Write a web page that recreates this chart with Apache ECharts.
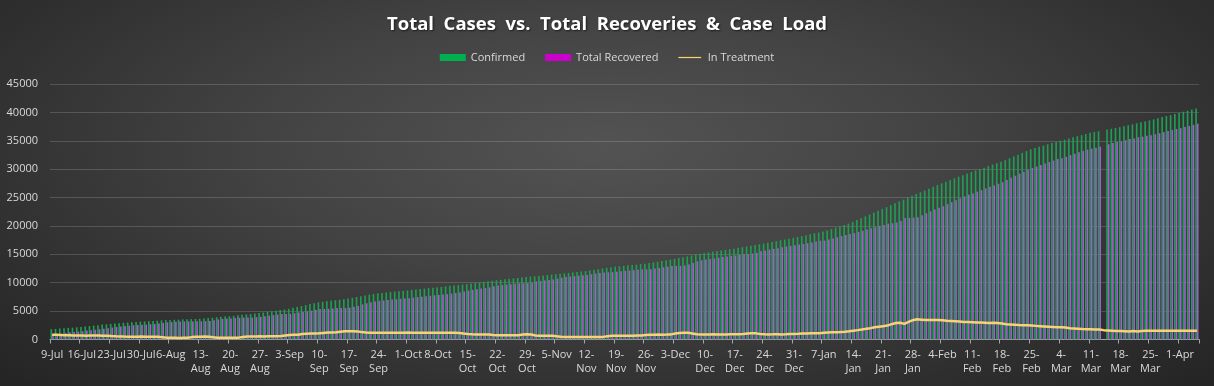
<!DOCTYPE html>
<html>
<head>
<meta charset="utf-8">
<script src="https://cdn.jsdelivr.net/npm/echarts@6/dist/echarts.min.js"></script>
<style>
html,body{margin:0;padding:0;}
#c{width:1214px;height:386px;background:radial-gradient(ellipse 70% 85% at 50% 38%, #535353 0%, #434343 40%, #2e2e2e 80%, #252525 100%);}
</style>
</head>
<body>
<div id="c"></div>
<script>
// Weekly tick labels (every 7th day from 9-Jul)
const tickLabels = ['9-Jul','16-Jul','23-Jul','30-Jul','6-Aug','13-\nAug','20-\nAug','27-\nAug','3-Sep','10-\nSep','17-\nSep','24-\nSep','1-Oct','8-Oct','15-\nOct','22-\nOct','29-\nOct','5-Nov','12-\nNov','19-\nNov','26-\nNov','3-Dec','10-\nDec','17-\nDec','24-\nDec','31-\nDec','7-Jan','14-\nJan','21-\nJan','28-\nJan','4-Feb','11-\nFeb','18-\nFeb','25-\nFeb','4-\nMar','11-\nMar','18-\nMar','25-\nMar','1-Apr'];

// Daily categories 9-Jul-2020 .. 5-Apr-2021
const months = ['Jan','Feb','Mar','Apr','May','Jun','Jul','Aug','Sep','Oct','Nov','Dec'];
const categories = [];
(function(){
  const d = new Date(2020, 6, 9);
  const end = new Date(2021, 3, 5);
  while (d <= end) { categories.push(d.getDate() + '-' + months[d.getMonth()]); d.setDate(d.getDate() + 1); }
})();

const confirmed = [
1800,1860,1930,1980,2050,2090,2150,
2200,2300,2370,2440,2530,2620,2680,
2750,2800,2870,2940,2990,3040,3100,
3150,3190,3250,3280,3320,3370,3420,
3450,3470,3510,3550,3570,3590,3620,
3650,3720,3780,3840,3920,4000,4050,
4100,4170,4260,4350,4420,4490,4580,
4650,4760,4860,4960,5080,5200,5290,
5400,5570,5730,5890,6070,6250,6400,
6550,6640,6740,6840,6920,7000,7100,
7200,7350,7480,7610,7760,7910,8030,
8150,8210,8290,8380,8440,8500,8580,
8650,8740,8810,8880,8970,9060,9130,
9200,9270,9360,9450,9520,9590,9680,
9750,9860,9950,10040,10150,10260,10350,
10450,10520,10610,10700,10770,10840,10930,
11000,11080,11140,11200,11290,11370,11430,
11500,11570,11660,11750,11820,11890,11980,
12050,12170,12280,12380,12510,12630,12740,
12850,12910,12990,13070,13130,13190,13280,
13350,13480,13590,13700,13830,13960,14080,
14200,14360,14500,14640,14800,14960,15100,
15250,15350,15470,15590,15690,15790,15900,
16000,16140,16260,16380,16520,16660,16780,
16900,17030,17180,17340,17470,17600,17750,
17900,18060,18210,18360,18530,18700,18850,
19000,19210,19450,19690,19920,20150,20420,
20700,21030,21350,21670,22010,22350,22670,
23000,23320,23660,24000,24320,24640,24980,
25300,25630,25940,26240,26570,26900,27200,
27500,27780,28080,28380,28660,28940,29230,
29500,29770,30020,30270,30540,30810,31050,
31300,31600,31920,32250,32560,32870,33190,
33500,33730,33940,34150,34380,34600,34800,
35000,35190,35400,35610,35800,35990,36200,
36400,36550,36690,null,36970,37110,37260,
37400,37580,37740,37900,38080,38260,38420,
38600,38780,38970,39170,39350,39520,39720,
39900,40110,40300,40490,40700
];

const recovered = [
910,1010,1100,1180,1260,1340,1410,
1470,1570,1640,1710,1800,1890,1970,
2100,2200,2290,2370,2440,2510,2550,
2580,2630,2690,2740,2800,2910,3020,
3070,3110,3150,3170,3190,3190,3200,
3210,3230,3260,3390,3520,3610,3680,
3710,3780,3840,3850,3860,3870,3940,
3990,4100,4200,4300,4400,4490,4490,
4510,4630,4770,4840,4950,5080,5230,
5350,5380,5400,5460,5540,5550,5560,
5610,5760,5920,6190,6390,6560,6700,
6820,6880,6940,7030,7110,7170,7230,
7280,7380,7470,7540,7610,7700,7790,
7850,7910,8000,8090,8180,8280,8460,
8600,8740,8860,8970,9060,9180,9360,
9490,9590,9680,9750,9820,9890,9900,
9910,9990,10210,10320,10410,10490,10570,
10720,10880,10990,11080,11170,11240,11310,
11380,11500,11610,11710,11820,11830,11870,
11950,12010,12090,12150,12210,12270,12340,
12360,12380,12490,12600,12730,12830,12930,
12950,12960,13040,13210,13490,13770,13940,
14090,14190,14290,14410,14530,14630,14720,
14790,14910,15010,15040,15130,15280,15530,
15670,15830,15960,16090,16260,16390,16490,
16580,16710,16820,16960,17100,17250,17390,
17420,17600,17800,18010,18220,18400,18590,
18730,18950,19150,19380,19590,19770,20000,
20170,20400,20480,20610,20890,21420,21430,
21460,21510,21880,22240,22560,22900,23220,
23480,23850,24190,24530,24870,25210,25510,
25730,26040,26320,26610,26920,27130,27430,
27700,28110,28470,28840,29210,29560,29890,
30180,30450,30720,30990,31260,31520,31780,
31920,32170,32470,32720,32970,33220,33450,
33620,33780,33960,null,34390,34590,34780,
34890,35090,35310,35400,35630,35720,35870,
35980,36160,36340,36520,36720,36900,37080,
37220,37420,37620,37810,38020
];

const inTreatment = [
850,820,780,760,740,720,700,690,680,690,700,690,680,670,
600,560,530,510,500,490,500,510,500,490,480,470,
400,330,300,290,280,290,300,
420,480,500,510,490,
380,320,300,290,300,310,330,
450,510,540,550,560,550,560,570,580,600,
700,780,820,850,
950,1010,1050,1060,1080,
1150,1220,1250,1260,
1380,1440,1460,1450,1430,
1300,1240,1210,1200,1190,1200,1210,1200,1190,1200,1210,1220,1200,1190,1200,1210,
1200,1190,1180,1200,1190,1180,1170,1150,
1050,960,920,900,890,900,880,
800,760,740,730,740,750,760,
880,920,870,
720,680,670,660,650,
560,480,450,440,430,440,450,440,430,440,450,460,
580,640,660,670,660,670,680,690,700,
800,840,850,860,850,870,900,
1050,1150,1200,1180,1050,
920,900,890,900,910,900,890,900,910,920,930,960,
1060,1100,1080,
960,920,900,910,930,900,910,950,980,1000,
1050,1070,1090,1100,1120,
1200,1240,1270,1290,1320,1380,1450,
1550,1650,1780,1880,
2000,2150,2250,2350,2450,
2700,2900,2950,
2750,
3100,3400,3550,
3500,3450,3450,3430,3420,
3380,3300,3250,3200,3150,3100,3080,
3050,3000,2980,2950,2900,2950,2900,
2800,2700,2650,2600,2550,2520,2500,2450,
2400,2350,2300,2250,2200,2150,2150,2100,
2000,1950,1900,1850,1820,1800,1780,1750,
1650,1600,1550,1500,1480,1450,1400,1480,1420,
1500,1520,1540,1550,1550,1560,1550,1550,1560,1550,1550,1550,1560,1550
];

const FONT = '"Open Sans", "Noto Sans", sans-serif';
const TXT = '#d9d9d9';

const chart = echarts.init(document.getElementById('c'), null, {renderer: 'canvas'});
chart.setOption({
  backgroundColor: 'transparent',
  animation: false,
  title: {
    text: 'Total  Cases  vs.  Total  Recoveries  &  Case  Load',
    left: 'center',
    top: 10,
    textStyle: {color: '#ffffff', fontSize: 18.5, fontWeight: 'bold', fontFamily: FONT,
      textShadowColor: 'rgba(0,0,0,0.6)', textShadowBlur: 2, textShadowOffsetX: 1, textShadowOffsetY: 1}
  },
  legend: {
    top: 47,
    left: 'center',
    itemWidth: 26,
    itemHeight: 7,
    itemGap: 20,
    textStyle: {color: TXT, fontSize: 11, fontFamily: FONT},
    data: [
      {name: 'Confirmed', icon: 'rect', itemStyle: {color: '#00b050'}},
      {name: 'Total Recovered', icon: 'rect', itemStyle: {color: '#cc00cc'}},
      {name: 'In Treatment', icon: 'path://M0,0 M0,8 M0,3.3 L26,3.3 L26,4.7 L0,4.7 Z', itemStyle: {color: '#f7d374'}}
    ]
  },
  grid: {left: 50, right: 15, top: 84, bottom: 46.5, containLabel: false},
  xAxis: {
    type: 'category',
    data: categories,
    boundaryGap: true,
    axisLine: {lineStyle: {color: '#a6a6a6', width: 1}},
    axisTick: {show: true, interval: 6, length: 4, lineStyle: {color: '#a6a6a6'}},
    axisLabel: {
      interval: 6, color: TXT, fontSize: 11, fontFamily: FONT, lineHeight: 14, margin: 8,
      formatter: function (v, i) { return i % 7 === 0 ? tickLabels[i / 7] : ''; }
    },
    splitLine: {show: false}
  },
  yAxis: {
    type: 'value',
    min: 0, max: 45000, interval: 5000,
    axisLine: {show: false},
    axisTick: {show: false},
    axisLabel: {color: TXT, fontSize: 11, fontFamily: FONT, margin: 12,
      formatter: function (v) { return String(v); }},
    splitLine: {lineStyle: {color: 'rgba(255,255,255,0.16)', width: 1}}
  },
  series: [
    {name: 'Confirmed', type: 'bar', data: confirmed, barGap: '0%', barCategoryGap: '22%',
      itemStyle: {color: '#1f9e55'}},
    {name: 'Total Recovered', type: 'bar', data: recovered,
      itemStyle: {color: '#a060c6'}},
    {name: 'In Treatment', type: 'line', data: inTreatment, symbol: 'none', z: 5,
      connectNulls: true,
      lineStyle: {color: '#f7d374', width: 2.5}, itemStyle: {color: '#f7d374'}}
  ]
});
</script>
</body>
</html>
